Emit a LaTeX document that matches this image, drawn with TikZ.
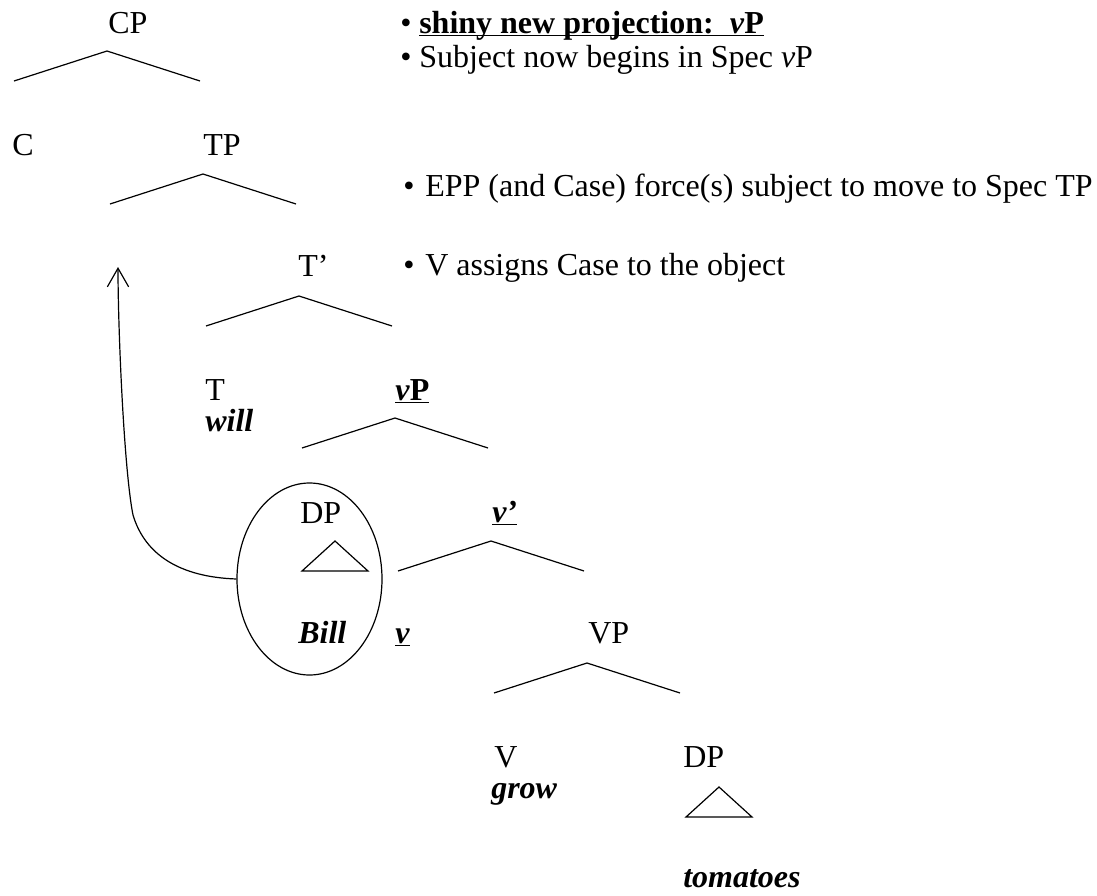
\documentclass[tikz,border=0pt]{standalone}
\usepackage{fontspec}
\setmainfont{Liberation Serif}
\usetikzlibrary{arrows.meta,shapes.geometric}
\newcommand{\uln}[1]{\underline{\smash{#1}}} % underline close under the baseline

\begin{document}
\begin{tikzpicture}[x=0.75pt,y=0.75pt,yscale=-1,xscale=1,
    lbl/.style={anchor=base west,inner sep=0pt,font=\fontsize{24}{28}\selectfont},
    note/.style={anchor=base west,inner sep=0pt,font=\fontsize{24}{28}\selectfont},
    branch/.style={line width=0.9pt},
    movearrow/.style={line width=0.9pt,-{Straight Barb[length=14pt,width=16pt]}}]
        \useasboundingbox (0,0) rectangle (1097,896); %set diagram to the size of the reference

        % Text Node
        \node [lbl] (cp) at (108,33) {CP};
        \node [lbl] (c) at (12,155) {C};
        \node [lbl] (tp) at (203,155) {TP};
        \node [lbl] (tbar) at (298,276) {T'};
        \node [lbl] (t) at (205,400) {T};
        \node [lbl] (will) at (205,431) {\textbf{\textit{will}}};
        \node [lbl] (vp) at (395,400) {\uln{\textbf{\textit{v}P}}};
        \node [lbl] (dpsubj) at (300,523) {DP};
        \node [lbl] (bill) at (298,643) {\textbf{\textit{Bill}}};
        \node [lbl] (littlev) at (395,643) {\uln{\textbf{\textit{v}}}};
        \node [lbl] (vbar) at (492,522) {\uln{\textbf{\textit{v'}}}};
        \node [lbl] (bigvp) at (588,643) {VP};
        \node [lbl] (bigv) at (494,767) {V};
        \node [lbl] (grow) at (491,798) {\textbf{\textit{grow}}};
        \node [lbl] (dpobj) at (683,767) {DP};
        \node [lbl] (tomatoes) at (683,887) {\textbf{\textit{tomatoes}}};

        %Shape: Ellipse round the subject
        \node [draw,ellipse,line width=0.9pt,minimum width=108.75pt,minimum height=144pt,inner sep=0pt] (subj) at (309.5,579) {};

        % Branch points
        \coordinate (cpA) at (107,51);  \coordinate (cpL) at (14,81);   \coordinate (cpR) at (200,81);
        \coordinate (tpA) at (203,174); \coordinate (tpL) at (110,204); \coordinate (tpR) at (296,204);
        \coordinate (tbA) at (299,296); \coordinate (tbL) at (206,326); \coordinate (tbR) at (392,326);
        \coordinate (vpA) at (395,418); \coordinate (vpL) at (302,448); \coordinate (vpR) at (488,448);
        \coordinate (vbA) at (491,541); \coordinate (vbL) at (398,571); \coordinate (vbR) at (584,571);
        \coordinate (VPA) at (587,663); \coordinate (VPL) at (494,693); \coordinate (VPR) at (680,693);

        %Straight Lines
        \draw [branch] (cpL) -- (cpA) -- (cpR);
        \draw [branch] (tpL) -- (tpA) -- (tpR);
        \draw [branch] (tbL) -- (tbA) -- (tbR);
        \draw [branch] (vpL) -- (vpA) -- (vpR);
        \draw [branch] (vbL) -- (vbA) -- (vbR);
        \draw [branch] (VPL) -- (VPA) -- (VPR);

        %Shape: Triangle
        \coordinate (dsA) at (335,541); \coordinate (dsL) at (302,571); \coordinate (dsR) at (368,571);
        \draw [branch] (dsL) -- (dsA) -- (dsR) -- cycle;
        %Shape: Triangle
        \coordinate (doA) at (719,787); \coordinate (doL) at (686,817); \coordinate (doR) at (752,817);
        \draw [branch] (doL) -- (doA) -- (doR) -- cycle;

        %Curve Lines: movement to Spec TP
        \coordinate (landing) at (118,267);
        \draw [movearrow] (subj.west) .. controls (180,577) and (145,555) .. (133,515) .. controls (124,470) and (118,330) .. (landing);

        % Text Node
        \node [note] (b1) at (400,33) {\textbullet};
        \node [note] (n1) at (419,33) {\uln{\textbf{shiny new projection:\ \ \textit{v}P}}};
        \node [note] (b2) at (400,67) {\textbullet};
        \node [note] (n2) at (419,67) {Subject now begins in Spec \textit{v}P};
        \node [note] (b3) at (403,196) {\textbullet};
        \node [note] (n3) at (425,196) {EPP (and Case) force(s) subject to move to Spec TP};
        \node [note] (b4) at (403,275) {\textbullet};
        \node [note] (n4) at (425,275) {V assigns Case to the object};
\end{tikzpicture}
\end{document}
